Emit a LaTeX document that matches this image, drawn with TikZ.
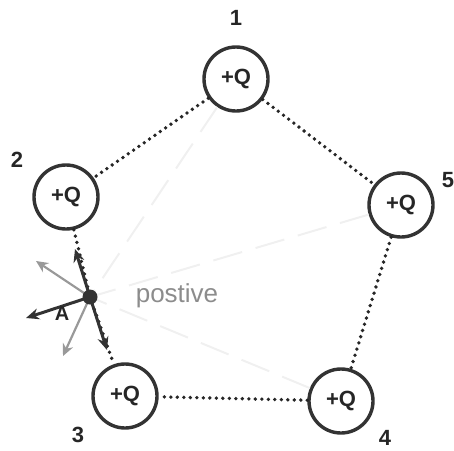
\documentclass[tikz,border=0pt]{standalone}
\usepackage{fontspec}
\setmainfont{Liberation Sans}
\usetikzlibrary{arrows.meta}
\begin{document}
\begin{tikzpicture}[x=1pt,y=-1pt,
  charge/.style={circle,draw=black!80,line width=3.4pt,minimum size=64pt,inner sep=0pt,font=\fontsize{22}{22}\selectfont\bfseries,text=black!85},
  num/.style={font=\fontsize{22}{22}\selectfont\bfseries,text=black!85},
  dotline/.style={draw=black!85,line width=3.8pt,line cap=round,dash pattern=on 0pt off 6.5pt},
  faint/.style={draw=black!6,line width=2pt,dash pattern=on 30pt off 14pt},
  blk/.style={draw=black!80,line width=3pt,-{Stealth[length=13pt,width=11pt]}},
  gry/.style={draw=black!40,line width=2.2pt,-{Stealth[length=12pt,width=11pt,open]}}]
\useasboundingbox (0,0) rectangle (454,450);
\node[charge] (c1) at (236,79) {+Q};
\node[charge] (c2) at (66,197) {+Q};
\node[charge] (c5) at (401,205) {+Q};
\node[charge] (c3) at (125,396) {+Q};
\node[charge] (c4) at (341,401) {+Q};
\node[num] (n1) at (236,18) {1};
\node[num] (n2) at (17,160) {2};
\node[num] (n5) at (448,180) {5};
\node[num] (n3) at (78,435) {3};
\node[num] (n4) at (385,438) {4};
\coordinate (A) at (90,297);
% faint erased lines
\draw[faint] (c1) -- (A);
\draw[faint] (c5) -- (A);
\draw[faint] (c4) -- (A);
% edges
\draw[dotline] (c1) -- (c2);
\draw[dotline] (c1) -- (c5);
\draw[dotline] (c5) -- (c4);
\draw[dotline] (c4) -- (c3);
\draw[dotline] (c2) -- (A);
\draw[dotline] (A) -- (c3);
% arrows at A
\coordinate (gu) at (36,261);
\coordinate (gd) at (63,356);
\coordinate (bu) at (75,249);
\coordinate (bd) at (107,350);
\coordinate (bl) at (26,318);
\draw[gry] (A) -- (gu);
\draw[gry] (A) -- (gd);
\draw[blk] (A) -- (bu);
\draw[blk] (A) -- (bd);
\draw[blk] (A) -- (bl);
\node[circle,fill=black!80,minimum size=15pt,inner sep=0pt] (dotA) at (A) {};
\node[num,font=\fontsize{20}{20}\selectfont\bfseries] (lA) at (62,314) {A};
\node[text=black!45,font=\fontsize{26}{26}\selectfont] (pos) at (177,296) {postive};
\end{tikzpicture}
\end{document}
